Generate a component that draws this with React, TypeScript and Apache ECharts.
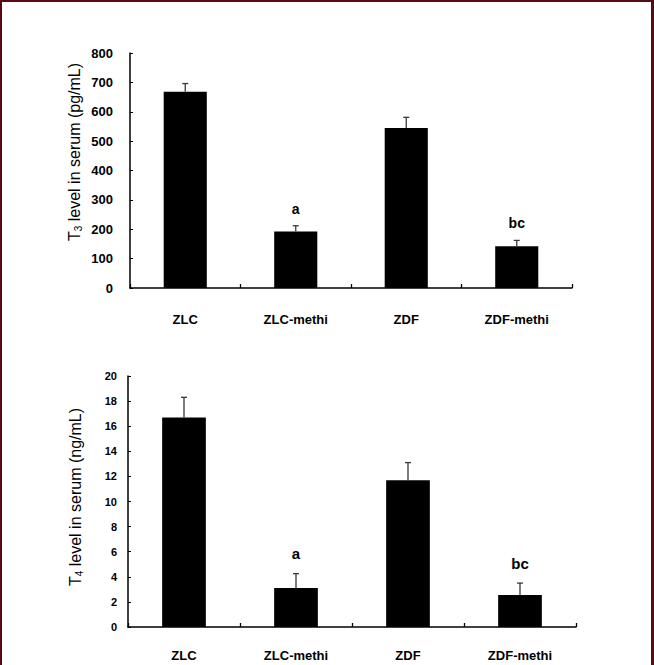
import React, { useEffect, useRef } from "react";
import * as echarts from "echarts";

const categories = ["ZLC", "ZLC-methi", "ZDF", "ZDF-methi"];
const t3Values = [668, 192, 545, 142];
const t3Errors = [28, 20, 36, 20];
const t4Values = [16.7, 3.1, 11.7, 2.55];
const t4Errors = [1.6, 1.15, 1.4, 0.95];
const sigLetters = ["", "a", "", "bc"];
const t3Ticks = { min: 0, max: 800, interval: 100 };
const t4Ticks = { min: 0, max: 20, interval: 2 };

const FONT = "Liberation Sans, Arial, sans-serif";

function errSeries(xi: number, values: number[], errors: number[], letterGap: number, letterSize: number) {
  return {
    type: "custom",
    xAxisIndex: xi,
    yAxisIndex: xi,
    silent: true,
    z: 5,
    data: values.map((v, i) => [i, v, errors[i]]),
    encode: { x: 0, y: 1 },
    renderItem: (params: any, api: any) => {
      const base = api.coord([api.value(0), api.value(1)]);
      const top = api.coord([api.value(0), api.value(1) + api.value(2)]);
      const children: any[] = [
        { type: "line", shape: { x1: base[0], y1: base[1], x2: top[0], y2: top[1] }, style: { stroke: "#3a3a3a", lineWidth: 1.3 } },
        { type: "line", shape: { x1: top[0] - 3, y1: top[1], x2: top[0] + 3, y2: top[1] }, style: { stroke: "#3a3a3a", lineWidth: 1.3 } },
      ];
      const letter = sigLetters[params.dataIndex];
      if (letter) {
        children.push({
          type: "text",
          x: top[0],
          y: top[1] - letterGap,
          style: { text: letter, fontFamily: FONT, fontWeight: "bold", fontSize: letterSize, fill: "#000", align: "center", verticalAlign: "middle" },
        });
      }
      return { type: "group", children };
    },
  };
}

export default function App() {
  const ref = useRef<HTMLDivElement>(null);
  useEffect(() => {
    const chart = echarts.init(ref.current!, null, { renderer: "svg" });
    const maroon = "#550a14";
    const axisCommon = {
      axisLine: { show: true, lineStyle: { color: "#000", width: 1.5 } },
      splitLine: { show: false },
    };
    chart.setOption({
      animation: false,
      backgroundColor: "#fff",
      grid: [
        { left: 130, right: 82, top: 53, height: 235 },
        { left: 128, right: 78, top: 376, height: 251 },
      ],
      xAxis: [0, 1].map((i) => ({
        type: "category",
        gridIndex: i,
        data: categories,
        ...axisCommon,
        axisTick: { show: true, inside: true, length: 4, lineStyle: { color: "#000", width: 1.3 } },
        axisLabel: { color: "#000", fontFamily: FONT, fontWeight: "bold", fontSize: 13, margin: i === 0 ? 25 : 22 },
      })),
      yAxis: [
        {
          type: "value",
          gridIndex: 0,
          ...t3Ticks,
          ...axisCommon,
          axisTick: { show: true, inside: true, length: 3, lineStyle: { color: "#000" } },
          axisLabel: { color: "#000", fontFamily: FONT, fontWeight: "bold", fontSize: 13, margin: 17 },
        },
        {
          type: "value",
          gridIndex: 1,
          ...t4Ticks,
          ...axisCommon,
          axisTick: { show: true, inside: true, length: 3, lineStyle: { color: "#000" } },
          axisLabel: { color: "#000", fontFamily: FONT, fontWeight: "bold", fontSize: 11, margin: 11 },
        },
      ],
      series: [
        { type: "bar", xAxisIndex: 0, yAxisIndex: 0, data: t3Values, barWidth: "39%", itemStyle: { color: "#000" } },
        { type: "bar", xAxisIndex: 1, yAxisIndex: 1, data: t4Values, barWidth: "39%", itemStyle: { color: "#000" } },
        errSeries(0, t3Values, t3Errors, 17, 14),
        errSeries(1, t4Values, t4Errors, 20, 15),
      ],
      graphic: [
        { type: "rect", shape: { x: 0, y: 0, width: 654, height: 2 }, style: { fill: maroon } },
        { type: "rect", shape: { x: 0, y: 0, width: 2, height: 665 }, style: { fill: maroon } },
        { type: "rect", shape: { x: 651, y: 0, width: 3, height: 665 }, style: { fill: maroon } },
        {
          type: "text",
          x: 74,
          y: 152,
          rotation: Math.PI / 2,
          style: {
            text: "T{s|3} level in serum (pg/mL)",
            rich: { s: { fontSize: 10, fontFamily: FONT, fill: "#000", padding: [9, 0, 0, 0] } },
            fontFamily: FONT,
            fontSize: 16,
            fill: "#000",
            align: "center",
            verticalAlign: "middle",
          },
        },
        {
          type: "text",
          x: 75,
          y: 497,
          rotation: Math.PI / 2,
          style: {
            text: "T{s|4} level in serum (ng/mL)",
            rich: { s: { fontSize: 10, fontFamily: FONT, fill: "#000", padding: [9, 0, 0, 0] } },
            fontFamily: FONT,
            fontSize: 16,
            fill: "#000",
            align: "center",
            verticalAlign: "middle",
          },
        },
      ],
    });
    return () => chart.dispose();
  }, []);
  return <div ref={ref} style={{ position: "fixed", left: 0, top: 0, width: 654, height: 665 }} />;
}
